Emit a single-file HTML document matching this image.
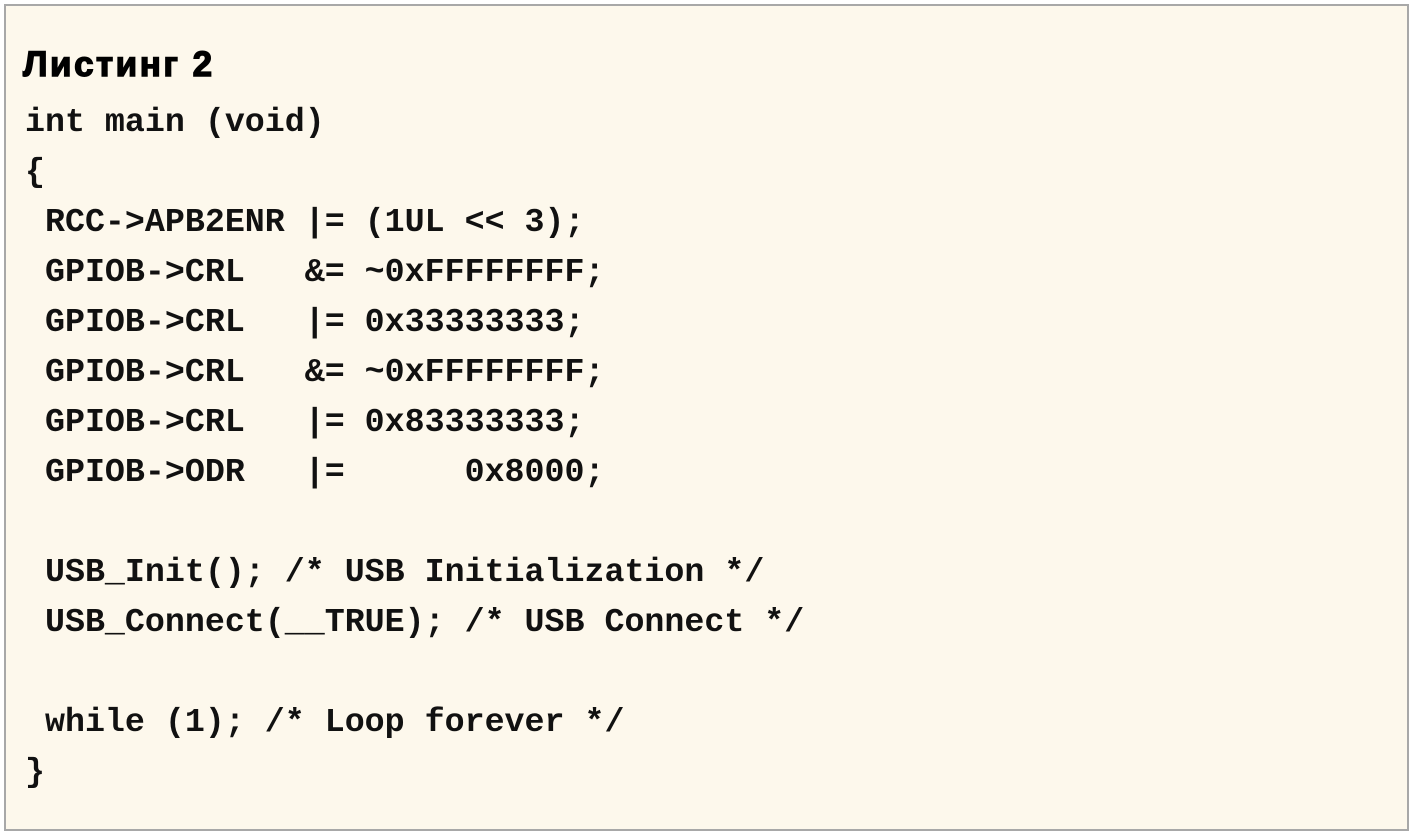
<!DOCTYPE html>
<html><head><meta charset="utf-8"><style>
html,body{margin:0;padding:0;}
body{width:1413px;height:835px;background:#fff;position:relative;overflow:hidden;}
.box{position:absolute;left:4px;top:4px;width:1401px;height:823px;border:2px solid #a8a8a8;background:#fdf8ec;}
.t{position:absolute;left:23px;top:45px;line-height:50px;font:bold 35px "Liberation Sans","DejaVu Sans",sans-serif;color:#000;letter-spacing:2.5px;-webkit-text-stroke:1.4px #000;}
pre{position:absolute;left:25px;top:97px;margin:0;font:bold 33.3px/50px "Liberation Mono","DejaVu Sans Mono",monospace;color:#111;}
</style></head><body>
<div class="box"></div>
<div class="t">Листинг 2</div>
<pre>int main (void)
{
 RCC-&gt;APB2ENR |= (1UL &lt;&lt; 3);
 GPIOB-&gt;CRL   &amp;= ~0xFFFFFFFF;
 GPIOB-&gt;CRL   |= 0x33333333;
 GPIOB-&gt;CRL   &amp;= ~0xFFFFFFFF;
 GPIOB-&gt;CRL   |= 0x83333333;
 GPIOB-&gt;ODR   |=      0x8000;

 USB_Init(); /* USB Initialization */
 USB_Connect(__TRUE); /* USB Connect */

 while (1); /* Loop forever */
}</pre>
</body></html>
